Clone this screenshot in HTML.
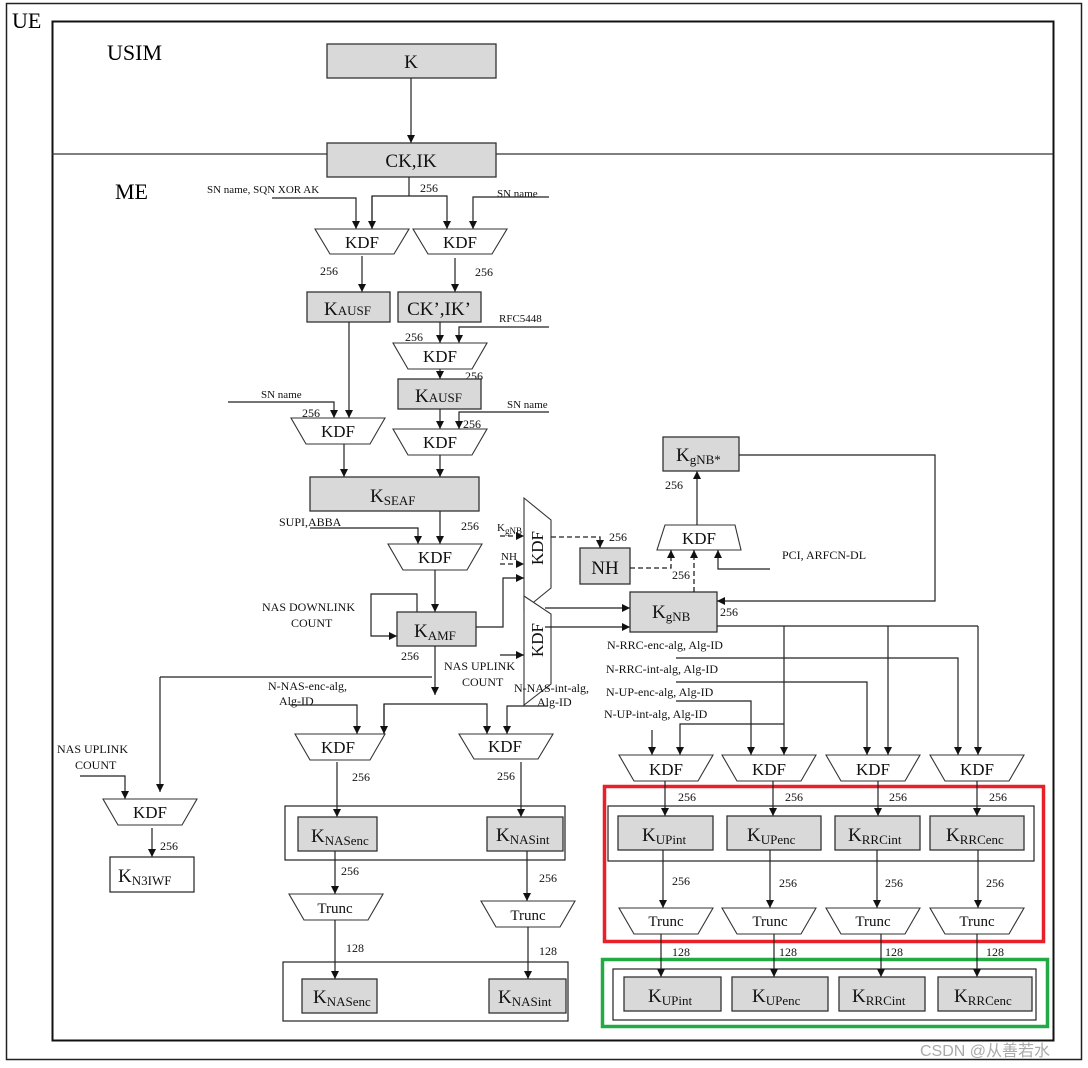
<!DOCTYPE html>
<html><head><meta charset="utf-8"><style>
html,body{margin:0;padding:0;background:#fff;}
svg{display:block;font-family:"Liberation Serif",serif;}
.l{stroke:#222;stroke-width:1.2;fill:none;}
.d{stroke:#222;stroke-width:1.3;fill:none;stroke-dasharray:5,3;}
.b{fill:#d9d9d9;stroke:#333;stroke-width:1.3;}
.w{fill:#fff;stroke:#222;stroke-width:1.2;}
.g{fill:none;stroke:#222;stroke-width:1.2;}
.t{fill:#fff;stroke:#333;stroke-width:1.1;}
.s{font-size:12px;fill:#111;}
.k{font-size:19px;fill:#111;}
.sub{font-size:13px;}
</style></head><body>
<svg width="1088" height="1068" viewBox="0 0 1088 1068" xmlns="http://www.w3.org/2000/svg">
<defs><marker id="a" viewBox="0 0 10 10" refX="10" refY="5" markerWidth="8" markerHeight="8" orient="auto" markerUnits="userSpaceOnUse"><path d="M0,0L10,5L0,10z" fill="#111"/></marker></defs>
<rect x="0" y="0" width="1088" height="1068" fill="#fff"/>
<rect x="6.5" y="3.5" width="1075" height="1056" fill="none" stroke="#222" stroke-width="1.5"/>
<rect x="52.5" y="21.5" width="1001" height="1019" fill="none" stroke="#111" stroke-width="2"/>
<line x1="52" y1="154" x2="1053" y2="154" stroke="#333" stroke-width="1.2"/>
<text x="12" y="28" style="font-size:22px">UE</text>
<text x="107" y="60" style="font-size:22px">USIM</text>
<text x="115" y="199" style="font-size:22px">ME</text>

<rect class="b" x="327" y="44" width="169" height="34"/><text class="k" x="411" y="68" text-anchor="middle">K</text>
<line class="l" x1="411" y1="78" x2="411" y2="143" marker-end="url(#a)"/>
<rect class="b" x="327" y="143" width="169" height="34"/><text class="k" x="411" y="167" text-anchor="middle">CK,IK</text>

<line class="l" x1="409" y1="177" x2="409" y2="196"/>
<polyline class="l" points="372,229 372,196 447,196 447,229" marker-end="url(#a)"/>
<line class="l" x1="372" y1="196" x2="372" y2="229" marker-end="url(#a)"/>
<text class="s" x="420" y="192">256</text>
<text class="s" x="207" y="193" style="font-size:11px">SN name, SQN XOR AK</text>
<polyline class="l" points="272,198 356,198 356,229" marker-end="url(#a)"/>
<text class="s" x="497" y="197" style="font-size:11px">SN name</text>
<polyline class="l" points="549,197 473,197 473,229" marker-end="url(#a)"/>

<polygon class="t" points="315,229 409,229 394,254 330,254"/><text class="k" x="362" y="248" text-anchor="middle" style="font-size:17px">KDF</text>
<polygon class="t" points="413,229 507,229 492,254 428,254"/><text class="k" x="460" y="248" text-anchor="middle" style="font-size:17px">KDF</text>

<line class="l" x1="362" y1="256" x2="362" y2="292" marker-end="url(#a)"/><text class="s" x="320" y="275">256</text>
<line class="l" x1="455" y1="258" x2="455" y2="292" marker-end="url(#a)"/><text class="s" x="475" y="276">256</text>

<rect class="b" x="307" y="292" width="83" height="30"/><text class="k" x="324" y="315">K<tspan class="sub">AUSF</tspan></text>
<rect class="b" x="398" y="292" width="83" height="30"/><text class="k" x="439" y="315" text-anchor="middle">CK’,IK’</text>

<text class="s" x="499" y="322" style="font-size:11px">RFC5448</text>
<polyline class="l" points="549,327 459,327 459,343" marker-end="url(#a)"/>
<line class="l" x1="440" y1="322" x2="440" y2="343" marker-end="url(#a)"/>
<text class="s" x="405" y="341">256</text>
<polygon class="t" points="393,343 487,343 472,369 408,369"/><text class="k" x="440" y="362" text-anchor="middle" style="font-size:17px">KDF</text>
<line class="l" x1="440" y1="369" x2="440" y2="379" marker-end="url(#a)"/>
<text class="s" x="465" y="380">256</text>
<rect class="b" x="398" y="379" width="83" height="30"/><text class="k" x="415" y="402">K<tspan class="sub">AUSF</tspan></text>

<line class="l" x1="440" y1="409" x2="440" y2="429" marker-end="url(#a)"/>
<text class="s" x="507" y="408" style="font-size:11px">SN name</text>
<polyline class="l" points="549,412 459,412 459,429" marker-end="url(#a)"/>
<text class="s" x="463" y="428">256</text>
<polygon class="t" points="393,429 487,429 472,455 408,455"/><text class="k" x="440" y="448" text-anchor="middle" style="font-size:17px">KDF</text>

<line class="l" x1="349" y1="322" x2="349" y2="418" marker-end="url(#a)"/>
<text class="s" x="261" y="398" style="font-size:11px">SN name</text>
<polyline class="l" points="228,402 334,402 334,418" marker-end="url(#a)"/>
<text class="s" x="302" y="417">256</text>
<polygon class="t" points="291,418 385,418 370,444 306,444"/><text class="k" x="338" y="437" text-anchor="middle" style="font-size:17px">KDF</text>

<line class="l" x1="344" y1="444" x2="344" y2="477" marker-end="url(#a)"/>
<line class="l" x1="440" y1="455" x2="440" y2="477" marker-end="url(#a)"/>
<rect class="b" x="310" y="477" width="169" height="34"/><text class="k" x="370" y="502">K<tspan class="sub" dy="3">SEAF</tspan></text>

<line class="l" x1="440" y1="511" x2="440" y2="544" marker-end="url(#a)"/>
<text class="s" x="279" y="526">SUPI,ABBA</text>
<polyline class="l" points="310,528 418,528 418,544" marker-end="url(#a)"/>
<text class="s" x="461" y="530">256</text>
<polygon class="t" points="388,544 482,544 467,570 403,570"/><text class="k" x="435" y="563" text-anchor="middle" style="font-size:17px">KDF</text>
<line class="l" x1="435" y1="570" x2="435" y2="612" marker-end="url(#a)"/>

<text class="s" x="262" y="611">NAS DOWNLINK</text><text class="s" x="291" y="627">COUNT</text>
<polyline class="l" points="417,612 417,594 371,594 371,636 397,636" marker-end="url(#a)"/>
<rect class="b" x="397" y="612" width="79" height="34"/><text class="k" x="414" y="637">K<tspan class="sub" dy="3">AMF</tspan></text>
<text class="s" x="401" y="660">256</text>

<polygon class="t" points="524,498 551,520 551,588 524,610"/><text class="k" x="0" y="0" text-anchor="middle" style="font-size:17px" transform="translate(543,548) rotate(-90)">KDF</text>
<polygon class="t" points="524,596 551,614 551,684 524,705"/><text class="k" x="0" y="0" text-anchor="middle" style="font-size:17px" transform="translate(543,640) rotate(-90)">KDF</text>
<polyline class="l" points="476,627 503,627 503,578 524,578" marker-end="url(#a)"/>
<text class="s" x="497" y="531" style="font-size:11px">K<tspan dy="3" style="font-size:9px">gNB</tspan></text>
<line class="d" x1="500" y1="536" x2="524" y2="536" marker-end="url(#a)"/>
<text class="s" x="501" y="560" style="font-size:11px">NH</text>
<line class="d" x1="500" y1="564" x2="524" y2="564" marker-end="url(#a)"/>
<line class="l" x1="500" y1="655" x2="524" y2="655" marker-end="url(#a)"/>
<text class="s" x="444" y="670">NAS UPLINK</text><text class="s" x="462" y="686">COUNT</text>
<polyline class="d" points="551,537 600,537 600,548" marker-end="url(#a)"/>
<text class="s" x="609" y="541">256</text>
<rect class="b" x="580" y="548" width="50" height="36"/><text class="k" x="605" y="574" text-anchor="middle">NH</text>
<line class="l" x1="545" y1="608" x2="630" y2="608" marker-end="url(#a)"/>
<line class="l" x1="545" y1="627" x2="630" y2="627" marker-end="url(#a)"/>

<rect class="b" x="630" y="592" width="87" height="40"/><text class="k" x="652" y="618">K<tspan class="sub" dy="3">gNB</tspan></text>
<text class="s" x="720" y="616">256</text>
<polygon class="t" points="665,525 735,525 741,550 657,550"/><text class="k" x="699" y="544" text-anchor="middle" style="font-size:17px">KDF</text>
<polyline class="d" points="630,568 671,568 671,550" marker-end="url(#a)"/>
<text class="s" x="672" y="579">256</text>
<line class="d" x1="694" y1="592" x2="694" y2="550" marker-end="url(#a)"/>
<polyline class="l" points="770,569 718,569 718,550" marker-end="url(#a)"/>
<text class="s" x="782" y="559">PCI, ARFCN-DL</text>
<line class="l" x1="697" y1="525" x2="697" y2="471" marker-end="url(#a)"/>
<text class="s" x="665" y="489">256</text>
<rect class="b" x="663" y="437" width="76" height="34"/><text class="k" x="676" y="461">K<tspan class="sub" dy="3">gNB*</tspan></text>
<polyline class="l" points="739,455 935,455 935,601 717,601" marker-end="url(#a)"/>

<line class="l" x1="717" y1="626" x2="978" y2="626"/>
<line class="l" x1="784" y1="626" x2="784" y2="755" marker-end="url(#a)"/>
<line class="l" x1="888" y1="626" x2="888" y2="755" marker-end="url(#a)"/>
<line class="l" x1="978" y1="626" x2="978" y2="755" marker-end="url(#a)"/>
<text class="s" x="607" y="649">N-RRC-enc-alg, Alg-ID</text>
<polyline class="l" points="676,658 958,658 958,755" marker-end="url(#a)"/>
<text class="s" x="606" y="673">N-RRC-int-alg, Alg-ID</text>
<polyline class="l" points="676,682 867,682 867,755" marker-end="url(#a)"/>
<text class="s" x="606" y="696">N-UP-enc-alg, Alg-ID</text>
<polyline class="l" points="676,701 751,701 751,755" marker-end="url(#a)"/>
<text class="s" x="604" y="718">N-UP-int-alg, Alg-ID</text>
<polyline class="l" points="784,724 680,724 680,755" marker-end="url(#a)"/>
<line class="l" x1="652" y1="730" x2="652" y2="755" marker-end="url(#a)"/>

<polygon class="t" points="619,755 713,755 698,781 634,781"/><text class="k" x="666" y="775" text-anchor="middle" style="font-size:17px">KDF</text>
<polygon class="t" points="722,755 816,755 801,781 737,781"/><text class="k" x="769" y="775" text-anchor="middle" style="font-size:17px">KDF</text>
<polygon class="t" points="826,755 920,755 905,781 841,781"/><text class="k" x="873" y="775" text-anchor="middle" style="font-size:17px">KDF</text>
<polygon class="t" points="930,755 1024,755 1009,781 945,781"/><text class="k" x="977" y="775" text-anchor="middle" style="font-size:17px">KDF</text>

<rect x="604.5" y="786.5" width="439" height="155" fill="none" stroke="#e8202a" stroke-width="3.5"/>
<rect class="g" x="608" y="806" width="426" height="55"/>
<line class="l" x1="665" y1="781" x2="665" y2="816" marker-end="url(#a)"/><text class="s" x="678" y="801">256</text>
<line class="l" x1="773" y1="781" x2="773" y2="816" marker-end="url(#a)"/><text class="s" x="785" y="801">256</text>
<line class="l" x1="878" y1="781" x2="878" y2="816" marker-end="url(#a)"/><text class="s" x="889" y="801">256</text>
<line class="l" x1="977" y1="781" x2="977" y2="816" marker-end="url(#a)"/><text class="s" x="989" y="801">256</text>
<rect class="b" x="618" y="816" width="95" height="34"/><text class="k" x="642" y="841">K<tspan class="sub" dy="3">UPint</tspan></text>
<rect class="b" x="727" y="816" width="94" height="34"/><text class="k" x="747" y="841">K<tspan class="sub" dy="3">UPenc</tspan></text>
<rect class="b" x="835" y="816" width="85" height="34"/><text class="k" x="848" y="841">K<tspan class="sub" dy="3">RRCint</tspan></text>
<rect class="b" x="930" y="816" width="94" height="34"/><text class="k" x="946" y="841">K<tspan class="sub" dy="3">RRCenc</tspan></text>

<line class="l" x1="663" y1="850" x2="663" y2="908" marker-end="url(#a)"/><text class="s" x="672" y="885">256</text>
<line class="l" x1="770" y1="850" x2="770" y2="908" marker-end="url(#a)"/><text class="s" x="779" y="887">256</text>
<line class="l" x1="877" y1="850" x2="877" y2="908" marker-end="url(#a)"/><text class="s" x="885" y="887">256</text>
<line class="l" x1="978" y1="850" x2="978" y2="908" marker-end="url(#a)"/><text class="s" x="986" y="887">256</text>
<polygon class="t" points="619,908 713,908 698,934 634,934"/><text class="k" x="666" y="926" text-anchor="middle" style="font-size:15px">Trunc</text>
<polygon class="t" points="722,908 816,908 801,934 737,934"/><text class="k" x="770" y="926" text-anchor="middle" style="font-size:15px">Trunc</text>
<polygon class="t" points="826,908 920,908 905,934 841,934"/><text class="k" x="873" y="926" text-anchor="middle" style="font-size:15px">Trunc</text>
<polygon class="t" points="930,908 1024,908 1009,934 945,934"/><text class="k" x="977" y="926" text-anchor="middle" style="font-size:15px">Trunc</text>

<rect x="602.5" y="959.5" width="445" height="67" fill="none" stroke="#22aa44" stroke-width="3.5"/>
<rect class="g" x="613" y="969" width="423" height="51"/>
<line class="l" x1="661" y1="934" x2="661" y2="977" marker-end="url(#a)"/><text class="s" x="672" y="956">128</text>
<line class="l" x1="774" y1="934" x2="774" y2="977" marker-end="url(#a)"/><text class="s" x="779" y="956">128</text>
<line class="l" x1="881" y1="934" x2="881" y2="977" marker-end="url(#a)"/><text class="s" x="885" y="956">128</text>
<line class="l" x1="977" y1="934" x2="977" y2="977" marker-end="url(#a)"/><text class="s" x="986" y="956">128</text>
<rect class="b" x="624" y="977" width="97" height="34"/><text class="k" x="648" y="1002">K<tspan class="sub" dy="3">UPint</tspan></text>
<rect class="b" x="732" y="977" width="96" height="34"/><text class="k" x="752" y="1002">K<tspan class="sub" dy="3">UPenc</tspan></text>
<rect class="b" x="839" y="977" width="86" height="34"/><text class="k" x="852" y="1002">K<tspan class="sub" dy="3">RRCint</tspan></text>
<rect class="b" x="938" y="977" width="94" height="34"/><text class="k" x="954" y="1002">K<tspan class="sub" dy="3">RRCenc</tspan></text>

<line class="l" x1="435" y1="646" x2="435" y2="695" marker-end="url(#a)"/>
<line class="l" x1="160" y1="677" x2="432" y2="677"/>
<line class="l" x1="160" y1="677" x2="160" y2="792" marker-end="url(#a)"/>
<polyline class="l" points="384,734 384,704 487,704 487,734" marker-end="url(#a)"/>
<line class="l" x1="384" y1="704" x2="384" y2="734" marker-end="url(#a)"/>
<text class="s" x="268" y="690">N-NAS-enc-alg,</text><text class="s" x="279" y="705">Alg-ID</text>
<polyline class="l" points="290,705 357,705 357,734" marker-end="url(#a)"/>
<text class="s" x="514" y="692">N-NAS-int-alg,</text><text class="s" x="537" y="706">Alg-ID</text>
<polyline class="l" points="548,706 507,706 507,734" marker-end="url(#a)"/>
<polygon class="t" points="295,734 385,734 370,760 310,760"/><text class="k" x="338" y="753" text-anchor="middle" style="font-size:17px">KDF</text>
<polygon class="t" points="459,734 553,734 538,759 474,759"/><text class="k" x="505" y="752" text-anchor="middle" style="font-size:17px">KDF</text>
<rect class="g" x="285" y="806" width="280" height="54"/>
<line class="l" x1="337" y1="762" x2="337" y2="817" marker-end="url(#a)"/><text class="s" x="352" y="781">256</text>
<line class="l" x1="521" y1="762" x2="521" y2="817" marker-end="url(#a)"/><text class="s" x="497" y="780">256</text>
<rect class="b" x="298" y="817" width="79" height="34"/><text class="k" x="311" y="842">K<tspan class="sub" dy="3">NASenc</tspan></text>
<rect class="b" x="487" y="817" width="76" height="34"/><text class="k" x="496" y="841">K<tspan class="sub" dy="3">NASint</tspan></text>
<line class="l" x1="335" y1="851" x2="335" y2="894" marker-end="url(#a)"/><text class="s" x="341" y="875">256</text>
<line class="l" x1="527" y1="851" x2="527" y2="901" marker-end="url(#a)"/><text class="s" x="539" y="882">256</text>
<polygon class="t" points="289,894 383,894 368,920 304,920"/><text class="k" x="335" y="913" text-anchor="middle" style="font-size:15px">Trunc</text>
<polygon class="t" points="481,901 575,901 560,927 496,927"/><text class="k" x="528" y="920" text-anchor="middle" style="font-size:15px">Trunc</text>
<rect class="g" x="283" y="962" width="285" height="59"/>
<line class="l" x1="335" y1="920" x2="335" y2="979" marker-end="url(#a)"/><text class="s" x="346" y="952">128</text>
<line class="l" x1="528" y1="927" x2="528" y2="979" marker-end="url(#a)"/><text class="s" x="539" y="955">128</text>
<rect class="b" x="302" y="979" width="75" height="34"/><text class="k" x="313" y="1003">K<tspan class="sub" dy="3">NASenc</tspan></text>
<rect class="b" x="489" y="979" width="77" height="34"/><text class="k" x="498" y="1003">K<tspan class="sub" dy="3">NASint</tspan></text>

<text class="s" x="57" y="753">NAS UPLINK</text><text class="s" x="75" y="769">COUNT</text>
<polyline class="l" points="80,776 125,776 125,799" marker-end="url(#a)"/>
<polygon class="t" points="103,799 197,799 182,825 118,825"/><text class="k" x="150" y="818" text-anchor="middle" style="font-size:17px">KDF</text>
<line class="l" x1="152" y1="828" x2="152" y2="857" marker-end="url(#a)"/><text class="s" x="160" y="850">256</text>
<rect class="w" x="110" y="857" width="84" height="35"/><text class="k" x="118" y="882">K<tspan class="sub" dy="3">N3IWF</tspan></text>

<text x="920" y="1056" style="font-family:'Liberation Sans','Noto Sans CJK SC',sans-serif;font-size:16px;fill:#aaa">CSDN @从善若水</text>
</svg>
</body></html>
